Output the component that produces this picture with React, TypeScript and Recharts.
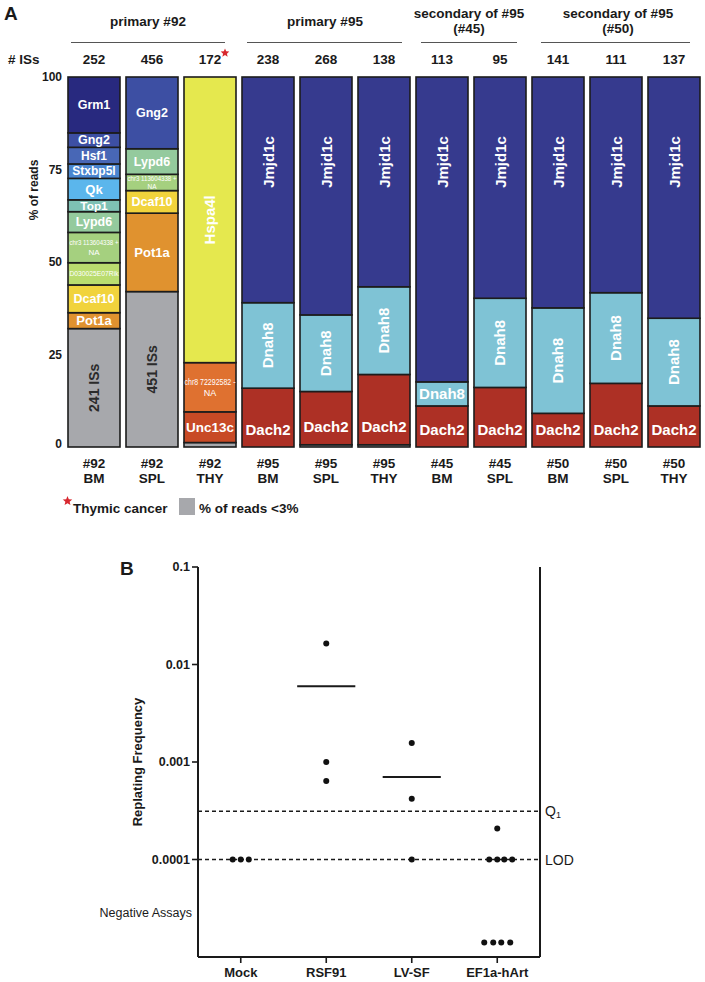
import React from 'react';
import {
  BarChart, Bar, XAxis, YAxis, Customized,
  ScatterChart, Scatter, ReferenceLine,
} from 'recharts';

const FONT = '"Liberation Sans", Arial, Helvetica, sans-serif';

// ---------- Panel A data ----------
const sampleIds = ['#92', '#92', '#92', '#95', '#95', '#95', '#45', '#45', '#50', '#50', '#50'];
const tissues = ['BM', 'SPL', 'THY', 'BM', 'SPL', 'THY', 'BM', 'SPL', 'BM', 'SPL', 'THY'];
const isCounts = ['252', '456', '172', '238', '268', '138', '113', '95', '141', '111', '137'];
const cancerFlags = [false, false, true, false, false, false, false, false, false, false, false];

// % of reads per integration site (stack order bottom -> top)
const otherReads = [32, 42, 1.2, 0, 0.6, 0.6, 0, 0, 0, 0, 0];
const otherLabels = ['241 ISs', '451 ISs', '', '', '', '', '', '', '', '', ''];
const unc13cReads = [null, null, 8.3, null, null, null, null, null, null, null, null];
const chr8Reads = [null, null, 13.3, null, null, null, null, null, null, null, null];
const hspa4lReads = [null, null, 77.2, null, null, null, null, null, null, null, null];
const dach2Reads = [null, null, null, 15.9, 14.4, 19.0, 11.1, 16.1, 9.1, 17.2, 11.1];
const dnah8Reads = [null, null, null, 23.1, 20.7, 23.7, 6.5, 24.1, 28.5, 24.5, 23.7];
const jmjd1cReads = [null, null, null, 61.0, 64.3, 56.7, 82.4, 59.8, 62.4, 58.3, 65.2];
const pot1aReads = [4.3, 21.2, null, null, null, null, null, null, null, null, null];
const dcaf10Reads = [7.5, 6.1, null, null, null, null, null, null, null, null, null];
const d030Reads = [6.0, null, null, null, null, null, null, null, null, null, null];
const chr3Reads = [8.2, 4.4, null, null, null, null, null, null, null, null, null];
const lypd6Reads = [5.6, 6.9, null, null, null, null, null, null, null, null, null];
const top1Reads = [3.2, null, null, null, null, null, null, null, null, null, null];
const qkReads = [5.8, null, null, null, null, null, null, null, null, null, null];
const stxbp5lReads = [3.9, null, null, null, null, null, null, null, null, null, null];
const hsf1Reads = [4.5, null, null, null, null, null, null, null, null, null, null];
const gng2Reads = [3.9, 19.4, null, null, null, null, null, null, null, null, null];
const grm1Reads = [15.1, null, null, null, null, null, null, null, null, null, null];

const yTicksA = [0, 25, 50, 75, 100];

type Seg = {
  key: string; values: (number | null)[]; color: string; lines: string[];
  font: number; bold: boolean; rotate?: boolean; narrow?: number; dark?: boolean;
};

const segments: Seg[] = [
  { key: 'other', values: otherReads, color: '#a7a8ac', lines: [], font: 14, bold: true, rotate: true, dark: true },
  { key: 'Unc13c', values: unc13cReads, color: '#c84a25', lines: ['Unc13c'], font: 13.5, bold: true },
  { key: 'chr8', values: chr8Reads, color: '#df7130', lines: ['chr8 72292582 -', 'NA'], font: 9, bold: false, narrow: 51 },
  { key: 'Hspa4l', values: hspa4lReads, color: '#e5e84e', lines: ['Hspa4l'], font: 15, bold: true, rotate: true },
  { key: 'Dach2', values: dach2Reads, color: '#ad3025', lines: ['Dach2'], font: 15, bold: true },
  { key: 'Dnah8', values: dnah8Reads, color: '#7fc3d5', lines: ['Dnah8'], font: 15, bold: true, rotate: true },
  { key: 'Jmjd1c', values: jmjd1cReads, color: '#363a8e', lines: ['Jmjd1c'], font: 15, bold: true, rotate: true },
  { key: 'Pot1a', values: pot1aReads, color: '#e0922f', lines: ['Pot1a'], font: 13, bold: true },
  { key: 'Dcaf10', values: dcaf10Reads, color: '#f1d33c', lines: ['Dcaf10'], font: 12.5, bold: true },
  { key: 'D030', values: d030Reads, color: '#badc6f', lines: ['D030025E07Rik'], font: 8, bold: false, narrow: 49 },
  { key: 'chr3', values: chr3Reads, color: '#a5d07f', lines: ['chr3 113604338 +', 'NA'], font: 8, bold: false, narrow: 49 },
  { key: 'Lypd6', values: lypd6Reads, color: '#94ca9d', lines: ['Lypd6'], font: 12.5, bold: true },
  { key: 'Top1', values: top1Reads, color: '#7ec1b4', lines: ['Top1'], font: 12, bold: true },
  { key: 'Qk', values: qkReads, color: '#5bb6ec', lines: ['Qk'], font: 13, bold: true },
  { key: 'Stxbp5l', values: stxbp5lReads, color: '#4a86d0', lines: ['Stxbp5l'], font: 12, bold: true },
  { key: 'Hsf1', values: hsf1Reads, color: '#4867b6', lines: ['Hsf1'], font: 12, bold: true },
  { key: 'Gng2', values: gng2Reads, color: '#3d4fa3', lines: ['Gng2'], font: 12.5, bold: true },
  { key: 'Grm1', values: grm1Reads, color: '#28297f', lines: ['Grm1'], font: 12.5, bold: true },
];

const barRows = sampleIds.map((id, i) => {
  const row: Record<string, any> = { sample: `${id} ${tissues[i]}` };
  segments.forEach((s) => { row[s.key] = s.values[i] ?? 0; });
  return row;
});

const groupHeaders = [
  { lines: ['primary #92'], cx: 148, x1: 71, x2: 225 },
  { lines: ['primary #95'], cx: 325, x1: 247, x2: 402 },
  { lines: ['secondary of  #95', '(#45)'], cx: 469, x1: 421, x2: 517 },
  { lines: ['secondary of  #95', '(#50)'], cx: 618, x1: 541, x2: 690 },
];

// ---------- Panel B data ----------
const groupNames = ['Mock', 'RSF91', 'LV-SF', 'EF1a-hArt'];
const lodLevel = 0.0001;
const q1Level = 0.000313;
const negativeAssayLevel = 0.0000286;
const negativePointLevel = 0.0000141;
const yTickValuesB = [0.0001, 0.001, 0.01, 0.1];
const yTickLabelsB = ['0.0001', '0.001', '0.01', '0.1'];

const mockValues = [0.0001, 0.0001, 0.0001];
const mockJitter = [-0.094, 0, 0.094];
const rsf91Values = [0.0164, 0.001, 0.00064];
const rsf91Jitter = [0, 0, 0];
const lvsfValues = [0.00157, 0.00042, 0.0001];
const lvsfJitter = [0, 0, 0];
const ef1aValues = [0.000208, 0.0001, 0.0001, 0.0001, 0.0001,
  negativePointLevel, negativePointLevel, negativePointLevel, negativePointLevel];
const ef1aJitter = [0, -0.094, 0, 0.082, 0.175, -0.152, -0.047, 0.047, 0.152];
const groupMeans: (number | null)[] = [null, 0.006, 0.0007, null];
const meanHalfWidth = 0.34;

const groupValues = [mockValues, rsf91Values, lvsfValues, ef1aValues];
const groupJitter = [mockJitter, rsf91Jitter, lvsfJitter, ef1aJitter];
const scatterPoints = groupValues.flatMap((vals, g) =>
  vals.map((v, k) => ({ x: g + 0.5 + groupJitter[g][k], y: v })));

// ---------- helpers ----------
function starPath(cx: number, cy: number, r: number) {
  const pts: string[] = [];
  for (let i = 0; i < 10; i++) {
    const rad = i % 2 === 0 ? r : r * 0.45;
    const a = -Math.PI / 2 + (i * Math.PI) / 5;
    pts.push(`${(cx + rad * Math.cos(a)).toFixed(2)},${(cy + rad * Math.sin(a)).toFixed(2)}`);
  }
  return `M${pts.join('L')}Z`;
}

function makeSegmentShape(seg: Seg) {
  return (props: any) => {
    const { x, y, width, height, index } = props;
    if (!height || height <= 0.5 || !width) return <g />;
    const lines = seg.key === 'other' ? (otherLabels[index] ? [otherLabels[index]] : []) : seg.lines;
    const cx = x + width / 2;
    let cy = y + height / 2;
    if (seg.key === 'Jmjd1c') cy = Math.min(cy, y + 85);
    if (seg.key === 'Dach2') cy = y + height - 18;
    const rotate = !!seg.rotate && height > 40;
    const fs = seg.narrow ? Math.min(seg.font, height / 2.5) : Math.min(seg.font, height * 1.0);
    const fill = seg.dark ? '#2b2b2b' : '#ffffff';
    const lh = fs * 1.25;
    const showText = lines.length > 0 && height >= 8;
    return (
      <g>
        <rect x={x} y={y} width={width} height={height} fill={seg.color} stroke="#1c1c1c" strokeWidth={1.6} />
        {showText && (
          <g transform={rotate ? `rotate(-90 ${cx} ${cy})` : undefined}>
            {lines.map((ln, k) => {
              const ly = cy + (k - (lines.length - 1) / 2) * lh;
              const squeeze = seg.narrow && ln.length > 4;
              return (
                <text key={k} x={cx} y={ly} textAnchor="middle" dominantBaseline="central"
                  fontSize={fs} fontWeight={seg.bold ? 700 : 400} fill={fill} fontFamily={FONT}
                  textLength={squeeze ? seg.narrow : undefined}
                  lengthAdjust={squeeze ? 'spacingAndGlyphs' : undefined}>
                  {ln}
                </text>
              );
            })}
          </g>
        )}
      </g>
    );
  };
}

const BottomTickA = (props: any) => {
  const { x, y, index } = props;
  return (
    <g>
      <text x={x} y={y + 21} textAnchor="middle" fontSize={13.5} fontWeight={700} fill="#1a1a1a" fontFamily={FONT}>{sampleIds[index]}</text>
      <text x={x} y={y + 36} textAnchor="middle" fontSize={13.5} fontWeight={700} fill="#1a1a1a" fontFamily={FONT}>{tissues[index]}</text>
    </g>
  );
};

const TopTickA = (props: any) => {
  const { x, y, index } = props;
  return (
    <g>
      <text x={x} y={y - 13} textAnchor="middle" fontSize={13.5} fontWeight={700} fill="#1a1a1a" fontFamily={FONT}>{isCounts[index]}</text>
      {cancerFlags[index] && <path d={starPath(x + 15, y - 24, 4.5)} fill="#d8282f" />}
    </g>
  );
};

const YTickA = (props: any) => {
  const { x, y, payload } = props;
  return (
    <text x={x} y={payload.value === 0 ? y - 3 : y} textAnchor="end" dominantBaseline="central" fontSize={12} fontWeight={700} fill="#1a1a1a" fontFamily={FONT}>
      {payload.value}
    </text>
  );
};

const DecorA = () => (
  <g fontFamily={FONT} fill="#1a1a1a">
    <text x={4} y={20} fontSize={19} fontWeight={700}>A</text>
    {groupHeaders.map((g, i) => (
      <g key={i}>
        {g.lines.map((ln, k) => (
          <text key={k} x={g.cx} y={g.lines.length === 1 ? 26 : 18 + k * 15} textAnchor="middle" fontSize={13.5} fontWeight={700}>{ln}</text>
        ))}
        <line x1={g.x1} x2={g.x2} y1={42.5} y2={42.5} stroke="#555" strokeWidth={1} />
      </g>
    ))}
    <text x={8} y={64} fontSize={13.5} fontWeight={700}># ISs</text>
    <text x={38} y={190} fontSize={12} fontWeight={700} textAnchor="middle" transform="rotate(-90 38 190)">% of reads</text>
    <path d={starPath(67.5, 501, 5)} fill="#d8282f" />
    <text x={73} y={513} fontSize={13.5} fontWeight={700}>Thymic cancer</text>
    <rect x={179} y={498} width={16} height={17} fill="#a7a8ac" />
    <text x={199} y={513} fontSize={13.5} fontWeight={700}>% of reads &lt;3%</text>
  </g>
);

const YTickB = (props: any) => {
  const { x, y, payload } = props;
  const v = payload.value;
  if (v === negativeAssayLevel) {
    return (
      <text x={x - 6} y={y} textAnchor="end" dominantBaseline="central" fontSize={12.5} fill="#1a1a1a" fontFamily={FONT}>Negative Assays</text>
    );
  }
  const idx = yTickValuesB.indexOf(v);
  return (
    <g>
      <line x1={x - 6} x2={x} y1={y} y2={y} stroke="#1a1a1a" strokeWidth={1.6} />
      <text x={x - 8} y={y} textAnchor="end" dominantBaseline="central" fontSize={12.5} fontWeight={700} fill="#1a1a1a" fontFamily={FONT}>
        {idx >= 0 ? yTickLabelsB[idx] : ''}
      </text>
    </g>
  );
};

const XTickB = (props: any) => {
  const { x, y, index } = props;
  return (
    <g>
      <line x1={x} x2={x} y1={y} y2={y + 6} stroke="#1a1a1a" strokeWidth={1.6} />
      <text x={x} y={y + 20} textAnchor="middle" fontSize={13} fontWeight={700} fill="#1a1a1a" fontFamily={FONT}>{groupNames[index]}</text>
    </g>
  );
};

const RefLabel = (props: any) => {
  const { viewBox, text } = props;
  if (!viewBox) return null;
  const x = viewBox.x + viewBox.width + 5;
  const y = viewBox.y;
  if (text === 'Q1') {
    return (
      <text x={x} y={y} dominantBaseline="central" fontSize={14} fill="#1a1a1a" fontFamily={FONT}>
        Q<tspan fontSize={9} dy={4}>1</tspan>
      </text>
    );
  }
  return <text x={x} y={y} dominantBaseline="central" fontSize={14} fill="#1a1a1a" fontFamily={FONT}>{text}</text>;
};

const DecorB = () => (
  <g fontFamily={FONT} fill="#1a1a1a">
    <text x={120} y={35} fontSize={19} fontWeight={700}>B</text>
    <text x={137} y={222} fontSize={13} fontWeight={700} textAnchor="middle" dominantBaseline="central" transform="rotate(-90 137 222)">Replating Frequency</text>
  </g>
);

const DotShape = (props: any) => <circle cx={props.cx} cy={props.cy} r={3} fill="#111" />;

export default function App() {
  return (
    <div style={{ position: 'absolute', left: 0, top: 0, width: 705, height: 982, background: '#fff', fontFamily: FONT }}>
      <div style={{ position: 'absolute', left: 0, top: 0 }}>
        <BarChart width={705} height={530} data={barRows} margin={{ top: 57, right: 2, bottom: 53, left: 0 }} barSize={52}>
          <XAxis xAxisId="bottom" dataKey="sample" height={30} axisLine={false} tickLine={false} tickSize={0} tickMargin={0} interval={0} tick={<BottomTickA />} />
          <XAxis xAxisId="top" dataKey="sample" orientation="top" height={20} axisLine={false} tickLine={false} tickSize={0} tickMargin={0} interval={0} tick={<TopTickA />} />
          <YAxis width={65} domain={[0, 100]} ticks={yTicksA} interval={0} axisLine={false} tickLine={false} tickSize={0} tickMargin={3} tick={<YTickA />} />
          {segments.map((s) => (
            <Bar key={s.key} dataKey={s.key} stackId="reads" xAxisId="bottom" fill={s.color}
              isAnimationActive={false} shape={makeSegmentShape(s)} />
          ))}
          <Customized component={<DecorA />} />
        </BarChart>
      </div>
      <div style={{ position: 'absolute', left: 0, top: 540 }}>
        <ScatterChart width={705} height={442} margin={{ top: 27, right: 165, bottom: 0, left: 98 }}>
          <XAxis type="number" dataKey="x" domain={[0, 4]} ticks={[0.5, 1.5, 2.5, 3.5]} interval={0} height={25}
            allowDataOverflow axisLine={{ stroke: '#1a1a1a', strokeWidth: 2 }} tickLine={false} tickSize={0} tickMargin={0} tick={<XTickB />} />
          <YAxis type="number" dataKey="y" scale="log" domain={[0.00001, 0.1]} allowDataOverflow width={100}
            ticks={[negativeAssayLevel, ...yTickValuesB]} interval={0}
            axisLine={{ stroke: '#1a1a1a', strokeWidth: 2 }} tickLine={false} tickSize={0} tickMargin={0} tick={<YTickB />} />
          <ReferenceLine x={4} stroke="#1a1a1a" strokeWidth={2} />
          <ReferenceLine y={q1Level} stroke="#1a1a1a" strokeWidth={1.4} strokeDasharray="4 3" label={<RefLabel text="Q1" />} />
          <ReferenceLine y={lodLevel} stroke="#1a1a1a" strokeWidth={1.4} strokeDasharray="4 3" label={<RefLabel text="LOD" />} />
          {groupMeans.map((m, g) => m === null ? null : (
            <ReferenceLine key={g} segment={[{ x: g + 0.5 - meanHalfWidth, y: m }, { x: g + 0.5 + meanHalfWidth, y: m }]}
              stroke="#1a1a1a" strokeWidth={2} />
          ))}
          <Scatter data={scatterPoints} isAnimationActive={false} shape={<DotShape />} />
          <Customized component={<DecorB />} />
        </ScatterChart>
      </div>
    </div>
  );
}
